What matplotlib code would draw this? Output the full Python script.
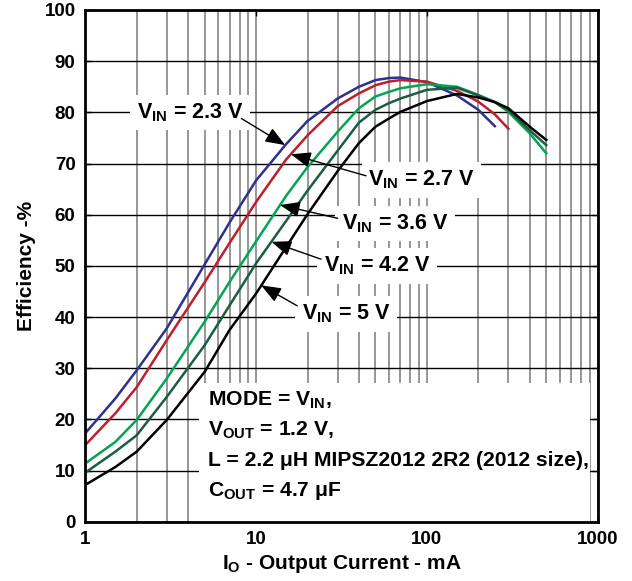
import matplotlib
matplotlib.use('Agg')
import matplotlib.pyplot as plt
from matplotlib.patches import Rectangle

matplotlib.rc('font', family='Liberation Sans', weight='bold', size=13.5)
matplotlib.rc('axes', labelweight='bold')
matplotlib.rc('mathtext', fontset='custom', rm='Liberation Sans:bold',
              it='Liberation Sans:bold', bf='Liberation Sans:bold')

# output current, mA
current = [1, 1.5, 2, 3, 5, 7, 10, 15, 20, 30, 40, 50, 60, 70, 100,
           150, 200, 250, 300, 400, 500]

# efficiency, % (one list per input voltage)
eff_23 = [17.3, 24.1, 29.6, 37.8, 50.3, 58.5, 66.7, 73.8, 78.3, 82.7, 85.0,
          86.3, 86.7, 86.8, 85.9, 83.3, 80.5, 77.3]
eff_27 = [15.0, 21.2, 26.3, 35.5, 46.8, 54.5, 62.5, 70.8, 75.5, 81.2, 83.7,
          85.3, 86.0, 86.3, 86.0, 84.2, 82.1, 79.6, 76.8]
eff_36 = [11.4, 15.6, 19.9, 28.0, 39.1, 46.9, 54.8, 63.7, 69.3, 76.2, 80.8,
          83.1, 84.0, 84.7, 85.5, 85.0, 83.4, 82.0, 80.1, 75.9, 72.0]
eff_42 = [9.6, 13.7, 16.9, 24.4, 34.5, 42.3, 50.5, 58.8, 64.7, 72.5, 78.0,
          80.5, 81.8, 82.7, 84.4, 84.8, 83.3, 82.0, 80.4, 76.5, 73.6]
eff_50 = [7.2, 10.7, 13.7, 19.9, 29.3, 37.5, 44.6, 53.7, 60.1, 68.5, 74.0,
          77.2, 78.8, 80.1, 82.2, 83.6, 82.9, 82.0, 80.8, 77.2, 74.6]

series = [
    (eff_23, '#2E3192'),
    (eff_27, '#BE1E2D'),
    (eff_36, '#00A651'),
    (eff_42, '#1B5E3E'),
    (eff_50, '#000000'),
]

fig = plt.figure(figsize=(6.32, 5.81), dpi=100)
ax = fig.add_axes([0.135, 0.102, 0.8107, 0.8808])

for eff, col in series:
    ax.plot(current[:len(eff)], eff, color=col, lw=1.8, zorder=4)

ax.set_xscale('log')
ax.set_xlim(1, 1000)
ax.set_ylim(0, 100)
ax.set_yticks(range(0, 101, 10))
ax.set_xticks([1, 10, 100, 1000])
ax.set_xticklabels(['1', '10', '100', '1000'])
ax.tick_params(which='both', direction='in', length=4, width=1.0,
               top=True, right=True)
ax.tick_params(which='minor', length=0)
ax.tick_params(axis='x', pad=7)
ax.tick_params(axis='y', pad=7)

ax.grid(True, axis='y', color='black', lw=1.0, zorder=1)
ax.grid(True, axis='x', which='both', color='#7a7a7a', lw=1.1, zorder=1)
ax.set_axisbelow(True)
for s in ax.spines.values():
    s.set_linewidth(2.0)
    s.set_zorder(6)

ax.set_xlabel(r'I$_{\rm O}$ - Output Current - mA', fontsize=15, labelpad=3)
ax.set_ylabel('Efficiency -%', fontsize=15, labelpad=6)

# curve labels with arrows
labels = [
    (r'V$_{\rm IN}$ = 2.3 V', (4.1, 80.0), (8.2, 78.8), (14.8, 73.6)),
    (r'V$_{\rm IN}$ = 2.7 V', (93, 66.8), (44, 67.6), (16.0, 71.8)),
    (r'V$_{\rm IN}$ = 3.6 V', (65, 58.3), (30, 59.3), (13.8, 61.9)),
    (r'V$_{\rm IN}$ = 4.2 V', (51, 50.0), (24, 51.3), (12.3, 54.7)),
    (r'V$_{\rm IN}$ = 5 V', (33.6, 40.6), (17.4, 42.2), (10.7, 46.2)),
]
for txt, pos, start, tip in labels:
    ax.text(pos[0], pos[1], txt, ha='center', va='center', fontsize=15.5,
            zorder=3, bbox=dict(boxstyle='square,pad=0.3', fc='white',
                                ec='none'))
    ax.annotate('', xy=tip, xytext=start, zorder=5,
                arrowprops=dict(arrowstyle='-|>,head_length=0.9,head_width=0.35',
                                color='black', lw=1.0, shrinkA=0, shrinkB=0))

# conditions box
ax.add_patch(Rectangle((0.222, 0.0), 0.763, 0.271, transform=ax.transAxes,
                       fc='white', ec='none', zorder=2))
cond = [r'MODE = V$_{\rm IN}$,',
        r'V$_{\rm OUT}$ = 1.2 V,',
        'L = 2.2 μH MIPSZ2012 2R2 (2012 size),',
        r'C$_{\rm OUT}$ = 4.7 μF']
for i, line in enumerate(cond):
    ax.text(5.2, 23.8 - 5.9 * i, line, ha='left', va='center', fontsize=15.2,
            zorder=3)

fig.savefig('out.png', dpi=100)
